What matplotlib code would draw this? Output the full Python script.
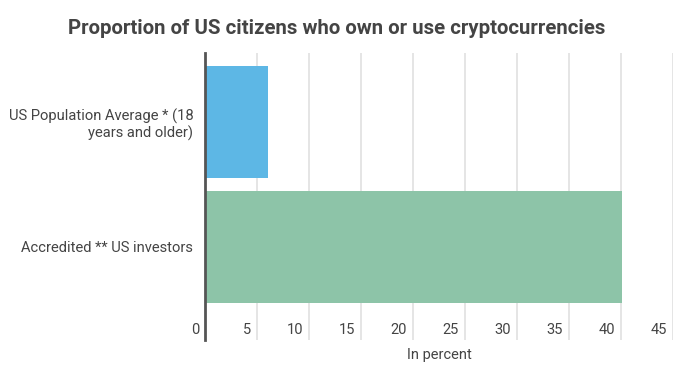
import matplotlib
matplotlib.use("Agg")
import matplotlib.pyplot as plt
import matplotlib.transforms as mtransforms

categories = ["US Population Average * (18\nyears and older)", "Accredited ** US investors"]
values = [6.1, 40.1]
colors = ["#5DB7E5", "#8DC4A8"]
xticks = [0, 5, 10, 15, 20, 25, 30, 35, 40, 45]

plt.rcParams['font.family'] = ['Roboto', 'DejaVu Sans']

fig = plt.figure(figsize=(6.78, 3.81), dpi=100)
W, H = 678, 381
ax = fig.add_axes([205 / W, 1 - 340 / H, (673 - 205) / W, (340 - 53) / H])

ypos = list(range(len(categories)))
ax.barh(ypos, values, height=0.896, color=colors, zorder=2)
ax.set_ylim(1.744, -0.552)
ax.set_xlim(0, 45)

ax.set_yticks(ypos)
ax.set_yticklabels(categories, fontsize=10.6, color="#444444", ha="right")
ax.tick_params(axis="y", length=0, pad=8.5)

ax.set_xticks(xticks)
ax.set_xticklabels([str(t) for t in xticks], fontsize=10.5, color="#444444")
ax.tick_params(axis="x", length=0, pad=0)
for lbl in ax.get_xticklabels():
    lbl.set_horizontalalignment("right")
    lbl.set_verticalalignment("center")
    lbl.set_transform(lbl.get_transform() + mtransforms.ScaledTranslation(-6 / 100, 10 / 100, fig.dpi_scale_trans))

ax.grid(axis="x", color="#E0E0E0", linewidth=1.2, zorder=0)
ax.set_axisbelow(True)
for s in ["top", "right", "bottom"]:
    ax.spines[s].set_visible(False)
ax.spines["left"].set_color("#555555")
ax.spines["left"].set_linewidth(2)
ax.spines["left"].set_zorder(3)

fig.text(439 / W, 1 - 355 / H, "In percent", ha="center", va="center", fontsize=10.5, color="#444444")
fig.text(337 / W, 1 - 29 / H, "Proportion of US citizens who own or use cryptocurrencies",
         ha="center", va="center", fontsize=14.7, fontweight="bold", color="#444444")

fig.savefig("out.png", dpi=100)
